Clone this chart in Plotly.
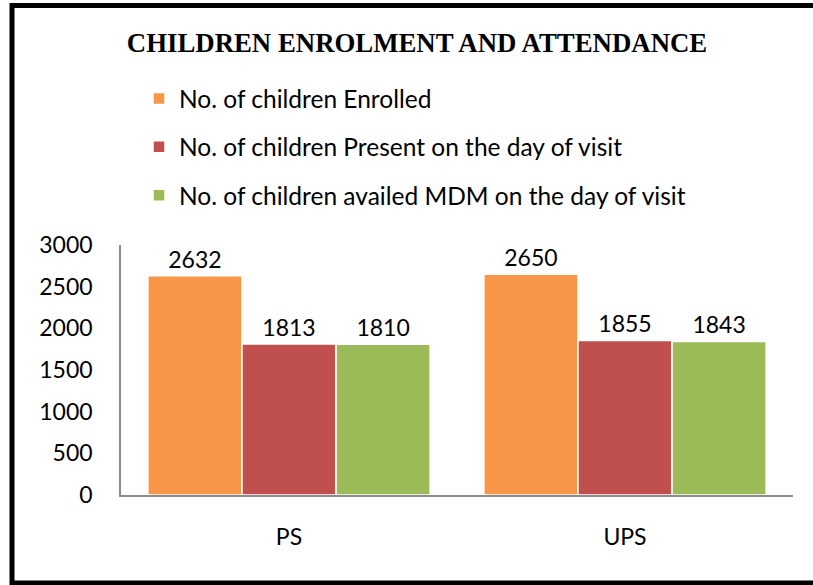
import plotly.graph_objects as go

categories = ["PS", "UPS"]
series_names = [
    "No. of children Enrolled",
    "No. of children Present on the day of visit",
    "No. of children availed MDM on the day of visit",
]
enrolled = [2632, 2650]
present = [1813, 1855]
availed_mdm = [1810, 1843]
colors = ["#F79646", "#C0504D", "#9BBB59"]

W, H = 813, 585
L, R, T, B = 121, 20, 245, 90
pw, ph = W - L - R, H - T - B

def px_x(x):
    return (x - L) / pw

def px_y(y):
    return (H - B - y) / ph

FONT = "Lato"

fig = go.Figure()
for name, vals, col, grp in zip(series_names, [enrolled, present, availed_mdm], colors, ["a", "b", "c"]):
    fig.add_trace(go.Bar(
        x=categories, y=vals, name=name, legendgroup=grp,
        marker=dict(color=col, line=dict(color="white", width=1.5)),
        text=[str(v) for v in vals], textposition="outside",
        textfont=dict(family=FONT, size=23, color="black"),
        cliponaxis=False,
    ))

fig.update_layout(
    width=W, height=H,
    margin=dict(l=L, r=R, t=T, b=B, autoexpand=False),
    paper_bgcolor="white", plot_bgcolor="white",
    barmode="group", bargap=0.16, bargroupgap=0,
    title=dict(text="<b>CHILDREN ENROLMENT AND ATTENDANCE</b>",
               font=dict(family="Liberation Serif", size=26.8, color="black"),
               x=417 / W, xanchor="center", y=1 - 43 / H, yanchor="middle",
               xref="container", yref="container"),
    legend=dict(xref="paper", yref="paper",
                x=px_x(139), xanchor="left", y=px_y(76), yanchor="top",
                font=dict(family=FONT, size=24.5, color="black"),
                tracegroupgap=13.5, itemwidth=30, bgcolor="rgba(0,0,0,0)"),
    font=dict(family=FONT, size=23, color="black"),
    showlegend=True,
)
fig.update_yaxes(range=[0, 3000], tickvals=[0, 500, 1000, 1500, 2000, 2500, 3000],
                 showgrid=False, zeroline=False, showline=True, linecolor="#8c8c8c",
                 linewidth=1.5, ticks="", ticklabelstandoff=22,
                 tickfont=dict(family=FONT, size=23, color="black"))
fig.update_xaxes(showgrid=False, showline=True, linecolor="#8c8c8c", linewidth=1.5,
                 ticks="", ticklabelstandoff=21,
                 tickfont=dict(family=FONT, size=23, color="black"))

fig.add_shape(type="rect", xref="paper", yref="paper",
              x0=px_x(12), x1=px_x(840), y0=px_y(583), y1=px_y(5.5),
              line=dict(color="black", width=5), fillcolor="rgba(0,0,0,0)", layer="above")

fig.write_html("out.html", config={"displayModeBar": False},
               post_script="document.body.style.margin='0';document.body.style.overflow='hidden';")
